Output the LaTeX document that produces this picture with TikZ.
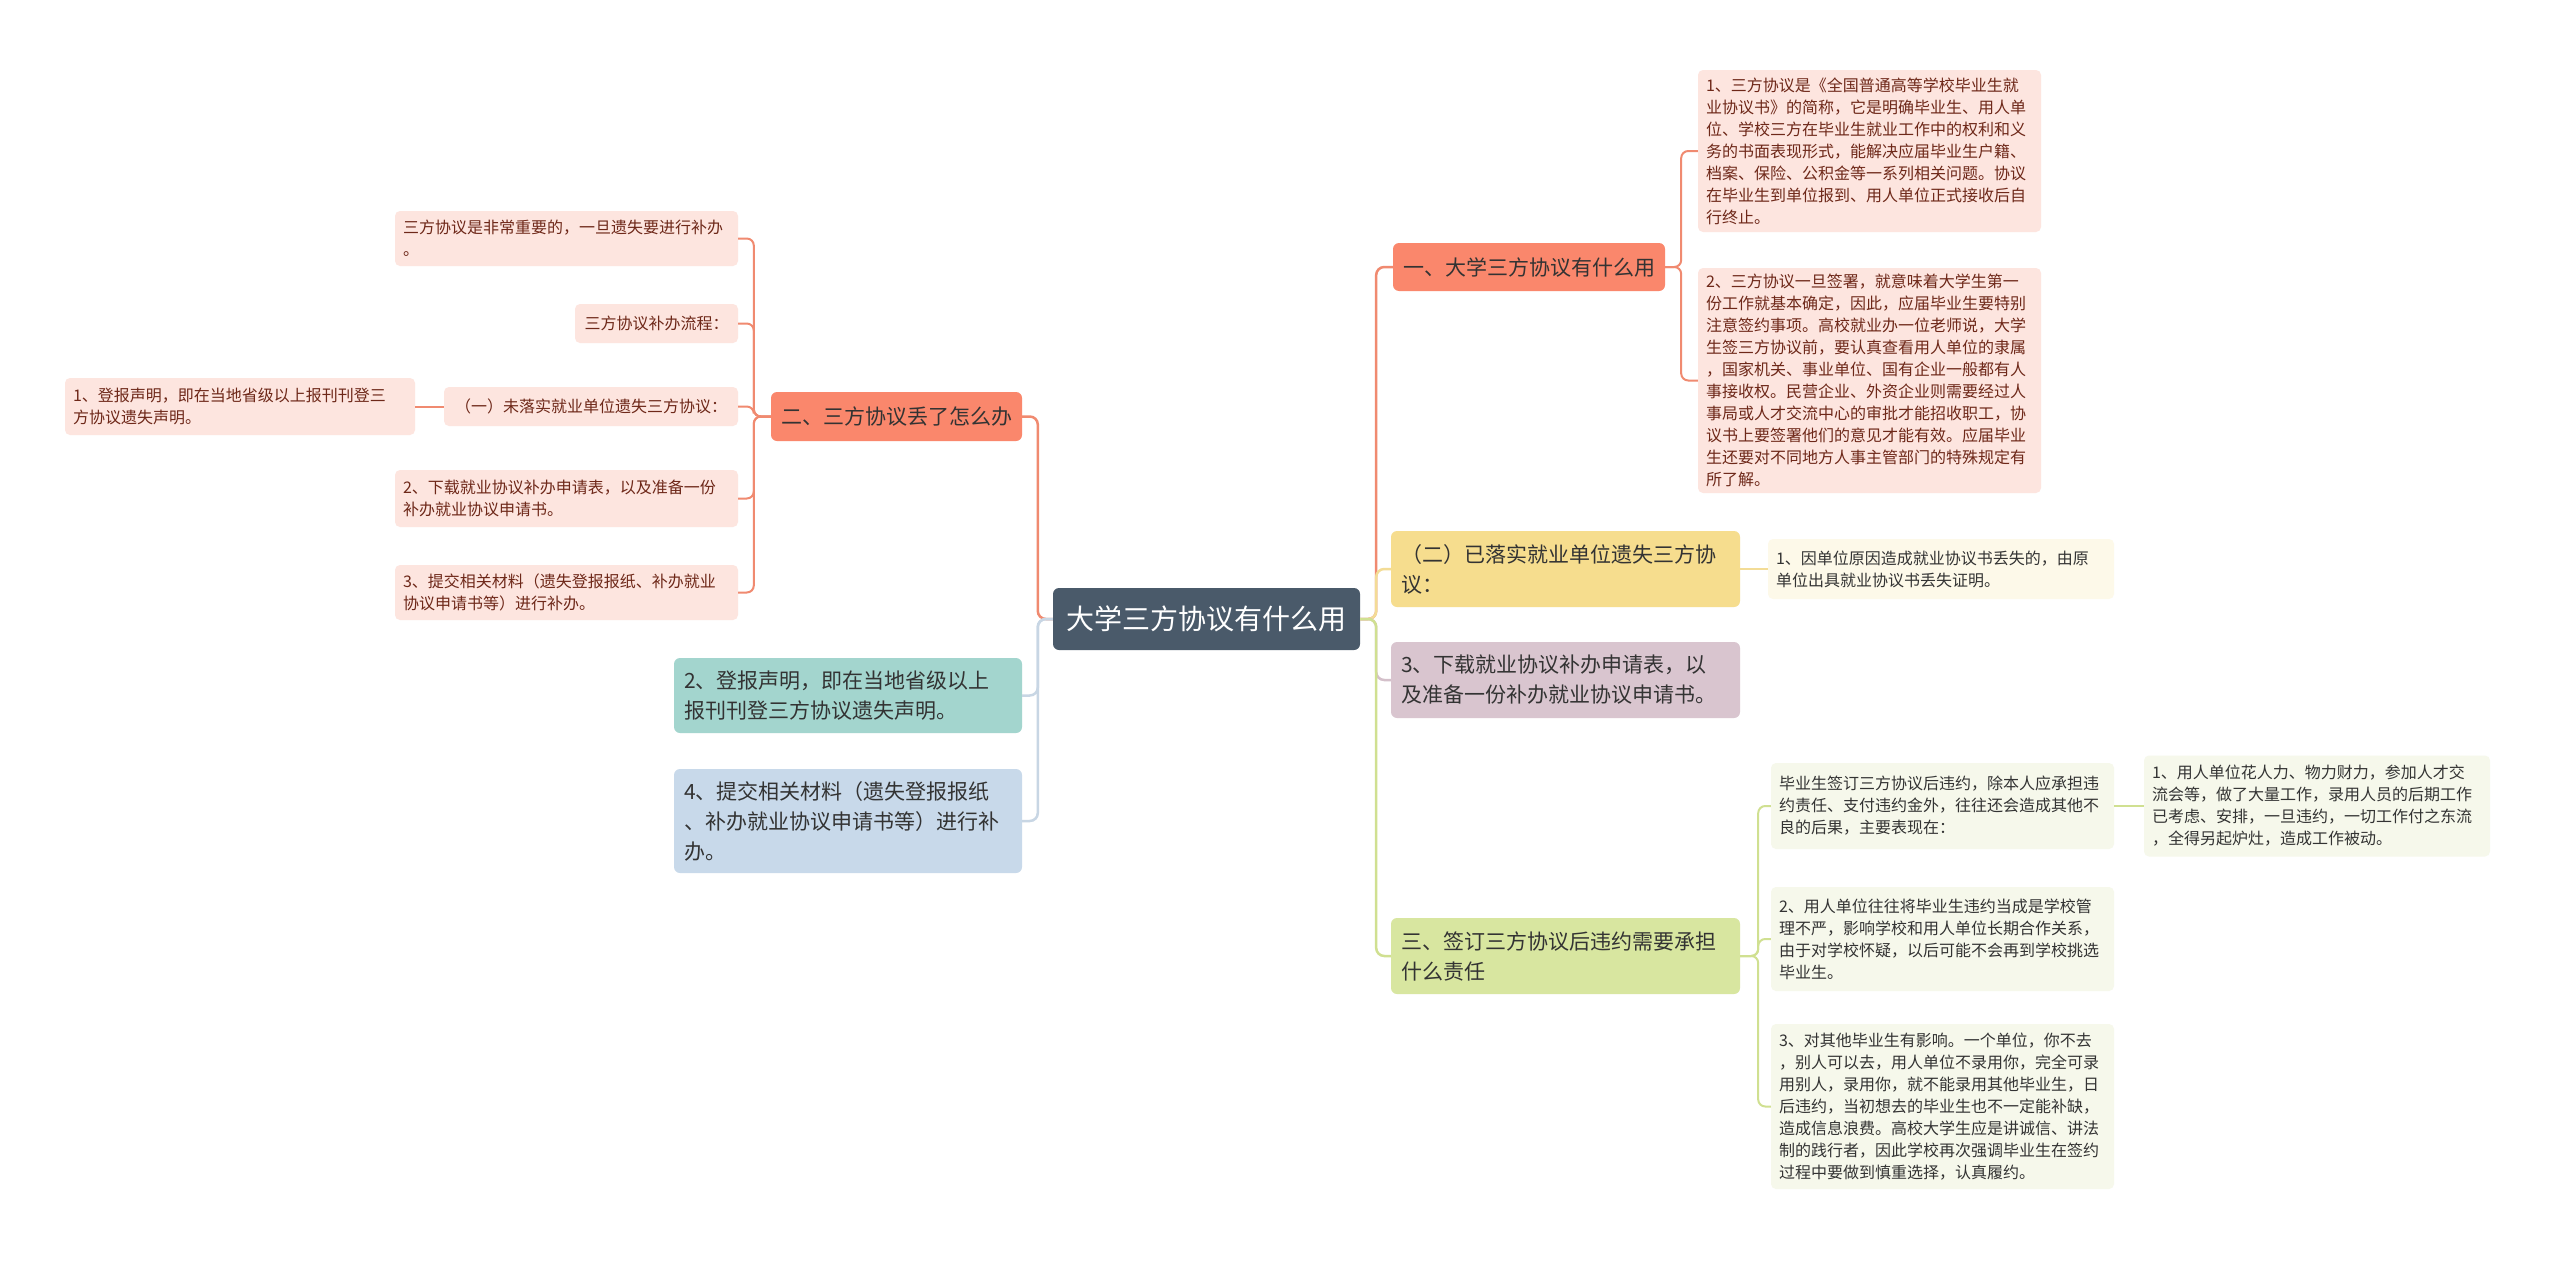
\documentclass[tikz,border=0pt]{standalone}
\usepackage{fontspec}
\setmainfont{Noto Sans CJK SC}
\usepackage{tikz}
\usetikzlibrary{positioning, calc}
\definecolor{rootslate}{RGB}{74,90,106}
\definecolor{salmon}{RGB}{250,135,108}
\definecolor{salmonline}{RGB}{240,138,112}
\definecolor{pinkleaf}{RGB}{253,229,223}
\definecolor{pinktext}{RGB}{110,40,25}
\definecolor{sunyellow}{RGB}{246,221,142}
\definecolor{yellowleaf}{RGB}{253,249,233}
\definecolor{yellowline}{RGB}{243,220,150}
\definecolor{mauve}{RGB}{217,197,207}
\definecolor{mauveline}{RGB}{212,192,202}
\definecolor{limegreen}{RGB}{216,230,160}
\definecolor{greenleaf}{RGB}{246,248,235}
\definecolor{greenline}{RGB}{208,224,145}
\definecolor{seateal}{RGB}{163,213,206}
\definecolor{skyblue}{RGB}{200,217,234}
\definecolor{blueline}{RGB}{200,214,228}
\definecolor{darktext}{RGB}{51,51,51}
\newcommand{\rootfont}{\fontsize{28}{34}\selectfont}
\newcommand{\topicfont}{\fontsize{21}{30}\selectfont}
\newcommand{\leaffont}{\fontsize{16}{22}\selectfont}

\begin{document}
\begin{tikzpicture}[
    x=1pt, y=-1pt,
    root/.style={rectangle, rounded corners=6pt, fill=rootslate, text=white, font=\rootfont, minimum width=307pt, minimum height=62pt},
    topic/.style={rectangle, rounded corners=6pt, font=\topicfont, text=darktext, align=left, inner xsep=10pt},
    leaf/.style={rectangle, rounded corners=5pt, font=\leaffont, align=left, inner xsep=8pt},
    conn/.style={line width=2.5pt, rounded corners=8pt},
    subconn/.style={line width=2pt, rounded corners=7pt}
]
\fill[white] (0,0) rectangle (2560,1261);
\useasboundingbox (0,0) rectangle (2560,1261);

\node[root] (root) at (1206.5,619) {大学三方协议有什么用};

\node[topic, fill=salmon, minimum width=272pt, minimum height=48pt] (R1) at (1529,267) {一、大学三方协议有什么用};
\node[leaf, fill=pinkleaf, text=pinktext, text width=327pt, minimum height=162pt] (R1a) at (1869.5,151) {1、三方协议是《全国普通高等学校毕业生就\\业协议书》的简称，它是明确毕业生、用人单\\位、学校三方在毕业生就业工作中的权利和义\\务的书面表现形式，能解决应届毕业生户籍、\\档案、保险、公积金等一系列相关问题。协议\\在毕业生到单位报到、用人单位正式接收后自\\行终止。};
\node[leaf, fill=pinkleaf, text=pinktext, text width=327pt, minimum height=225pt] (R1b) at (1869.5,380.5) {2、三方协议一旦签署，就意味着大学生第一\\份工作就基本确定，因此，应届毕业生要特别\\注意签约事项。高校就业办一位老师说，大学\\生签三方协议前，要认真查看用人单位的隶属\\，国家机关、事业单位、国有企业一般都有人\\事接收权。民营企业、外资企业则需要经过人\\事局或人才交流中心的审批才能招收职工，协\\议书上要签署他们的意见才能有效。应届毕业\\生还要对不同地方人事主管部门的特殊规定有\\所了解。};

\node[topic, fill=sunyellow, text width=329pt, minimum height=76pt] (R2) at (1565.5,569) {（二）已落实就业单位遗失三方协\\议：};
\node[leaf, fill=yellowleaf, text=darktext, text width=330pt, minimum height=60pt] (R2a) at (1941,569) {1、因单位原因造成就业协议书丢失的，由原\\单位出具就业协议书丢失证明。};

\node[topic, fill=mauve, text width=329pt, minimum height=76pt] (R3) at (1565.5,680) {3、下载就业协议补办申请表，以\\及准备一份补办就业协议申请书。};

\node[topic, fill=limegreen, text width=329pt, minimum height=76pt] (R4) at (1565.5,956) {三、签订三方协议后违约需要承担\\什么责任};
\node[leaf, fill=greenleaf, text=darktext, text width=327pt, minimum height=86pt] (R4a) at (1942.5,806) {毕业生签订三方协议后违约，除本人应承担违\\约责任、支付违约金外，往往还会造成其他不\\良的后果，主要表现在：};
\node[leaf, fill=greenleaf, text=darktext, text width=330pt, minimum height=101pt] (R4a1) at (2317,806) {1、用人单位花人力、物力财力，参加人才交\\流会等，做了大量工作，录用人员的后期工作\\已考虑、安排，一旦违约，一切工作付之东流\\，全得另起炉灶，造成工作被动。};
\node[leaf, fill=greenleaf, text=darktext, text width=327pt, minimum height=104pt] (R4b) at (1942.5,939) {2、用人单位往往将毕业生违约当成是学校管\\理不严，影响学校和用人单位长期合作关系，\\由于对学校怀疑，以后可能不会再到学校挑选\\毕业生。};
\node[leaf, fill=greenleaf, text=darktext, text width=327pt, minimum height=165pt] (R4c) at (1942.5,1106.5) {3、对其他毕业生有影响。一个单位，你不去\\，别人可以去，用人单位不录用你，完全可录\\用别人，录用你，就不能录用其他毕业生，日\\后违约，当初想去的毕业生也不一定能补缺，\\造成信息浪费。高校大学生应是讲诚信、讲法\\制的践行者，因此学校再次强调毕业生在签约\\过程中要做到慎重选择，认真履约。};

\node[topic, fill=salmon, minimum width=251pt, minimum height=49pt] (L1) at (896.5,416.5) {二、三方协议丢了怎么办};
\node[leaf, fill=pinkleaf, text=pinktext, text width=327pt, minimum height=55pt] (L1a) at (566.5,238.5) {三方协议是非常重要的，一旦遗失要进行补办\\。};
\node[leaf, fill=pinkleaf, text=pinktext, minimum width=163pt, minimum height=39pt] (L1b) at (656.5,323.5) {三方协议补办流程：};
\node[leaf, fill=pinkleaf, text=pinktext, minimum width=294pt, minimum height=39pt] (L1c) at (591,406.5) {（一）未落实就业单位遗失三方协议：};
\node[leaf, fill=pinkleaf, text=pinktext, text width=334pt, minimum height=57pt] (L1c1) at (240,406.5) {1、登报声明，即在当地省级以上报刊刊登三\\方协议遗失声明。};
\node[leaf, fill=pinkleaf, text=pinktext, text width=327pt, minimum height=57pt] (L1d) at (566.5,498.5) {2、下载就业协议补办申请表，以及准备一份\\补办就业协议申请书。};
\node[leaf, fill=pinkleaf, text=pinktext, text width=327pt, minimum height=55pt] (L1e) at (566.5,592.5) {3、提交相关材料（遗失登报报纸、补办就业\\协议申请书等）进行补办。};

\node[topic, fill=seateal, text width=328pt, minimum height=75pt] (L2) at (848,695.5) {2、登报声明，即在当地省级以上\\报刊刊登三方协议遗失声明。};
\node[topic, fill=skyblue, text width=328pt, minimum height=104pt] (L3) at (848,821) {4、提交相关材料（遗失登报报纸\\、补办就业协议申请书等）进行补\\办。};

\draw[conn, salmonline] (root.west) -- ++(-15,0) |- (L1.east);
\draw[conn, blueline] (root.west) -- ++(-15,0) |- (L2.east);
\draw[conn, blueline] (root.west) -- ++(-15,0) |- (L3.east);
\draw[conn, salmonline] (root.east) -- ++(16,0) |- (R1.west);
\draw[conn, yellowline] (root.east) -- ++(16,0) |- (R2.west);
\draw[conn, mauveline] (root.east) -- ++(16,0) |- (R3.west);
\draw[conn, greenline] (root.east) -- ++(16,0) |- (R4.west);

\draw[subconn, salmonline] (R1.east) -- ++(16,0) |- (R1a.west);
\draw[subconn, salmonline] (R1.east) -- ++(16,0) |- (R1b.west);
\draw[subconn, yellowline] (R2.east) -- (R2a.west);
\draw[subconn, greenline] (R4.east) -- ++(18,0) |- (R4a.west);
\draw[subconn, greenline] (R4.east) -- ++(18,0) |- (R4b.west);
\draw[subconn, greenline] (R4.east) -- ++(18,0) |- (R4c.west);
\draw[subconn, greenline] (R4a.east) -- (R4a1.west);

\draw[subconn, salmonline] (L1.west) -- ++(-17,0) |- (L1a.east);
\draw[subconn, salmonline] (L1.west) -- ++(-17,0) |- (L1b.east);
\draw[subconn, salmonline] (L1.west) -- ++(-17,0) |- (L1c.east);
\draw[subconn, salmonline] (L1.west) -- ++(-17,0) |- (L1d.east);
\draw[subconn, salmonline] (L1.west) -- ++(-17,0) |- (L1e.east);
\draw[subconn, salmonline] (L1c.west) -- (L1c1.east);
\end{tikzpicture}
\end{document}
